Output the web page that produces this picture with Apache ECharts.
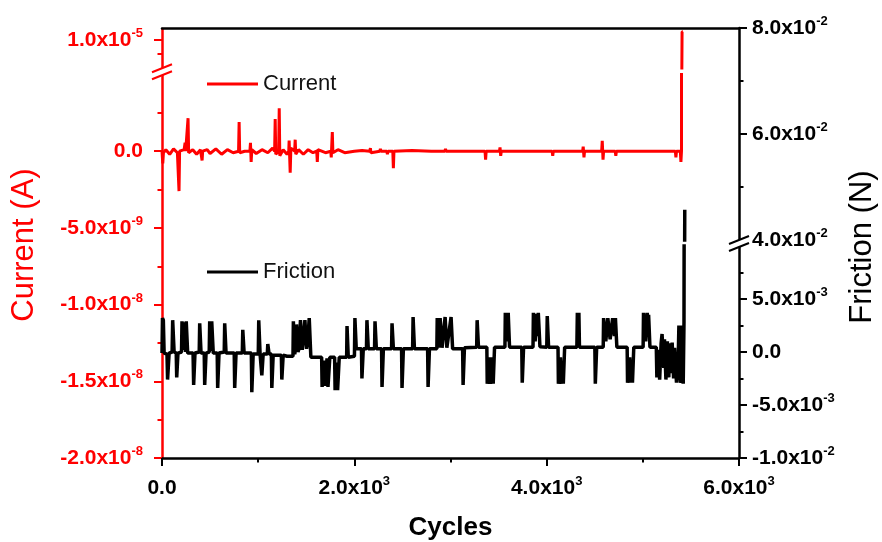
<!DOCTYPE html>
<html><head><meta charset="utf-8">
<script src="https://cdn.jsdelivr.net/npm/echarts@6/dist/echarts.min.js"></script>
<style>html,body{margin:0;padding:0;background:#fff}#c{width:882px;height:542px}</style>
</head><body><div id="c"></div>
<script>
// ---------- data ----------
const cycleTicks = [0, 2000, 4000, 6000];
const currentTicksLow = [-2e-8, -1.5e-8, -1e-8, -5e-9, 0];
const currentTicksHigh = [1e-5];
const frictionTicksLow = [-1e-2, -5e-3, 0, 5e-3];
const frictionTicksHigh = [4e-2, 6e-2, 8e-2];

// [cycles, current (A)]
const currentPoints = [
[0,0],[8,-8e-10],[15,-1e-10],[40,1e-10],[80,-2e-10],[120,1.5e-10],[160,-1e-10],[171,0],[177,-2.6e-9],[183,0],
[230,1e-10],[235,0],[240,5.5e-10],[246,0],[265,0],[271,2.15e-9],[277,-1e-10],[320,1e-10],[360,-2e-10],[400,1e-10],[411,0],[417,-6e-10],[423,0],
[470,1e-10],[500,-1.5e-10],[560,1.5e-10],[620,-2e-10],[680,1e-10],[740,-1e-10],[796,0],[802,1.9e-9],[808,-1e-10],[860,0],
[914,0],[920,5.5e-10],[927,-7e-10],[934,1e-10],[980,-1.5e-10],[1040,1e-10],[1100,-1e-10],[1150,2e-10],[1171,0],[1177,2.1e-9],[1183,-2e-10],
[1213,0],[1219,2.8e-9],[1225,-3e-10],[1260,1e-10],[1300,-2e-10],[1318,0],[1322,7e-10],[1333,-1.4e-9],[1340,2e-10],[1379,0],[1385,7.5e-10],[1391,-2e-10],
[1420,1e-10],[1470,-2e-10],[1520,1e-10],[1570,-1e-10],[1609,0],[1615,-7e-10],[1621,1e-10],[1700,-1e-10],[1755,0],[1760,-4e-10],[1771,1.25e-9],[1777,-1e-10],
[1830,1e-10],[1900,-1e-10],[2000,0],[2080,5e-11],[2161,0],[2167,2e-10],[2173,-1e-10],[2265,0],[2271,1.5e-10],[2277,0],[2338,0],[2344,-2e-10],[2350,0],
[2400,0],[2406,-1.1e-9],[2412,0],[2600,5e-11],[2800,0],[2942,0],[2948,1.5e-10],[2954,0],[3150,0],[3359,0],[3365,-5.5e-10],[3371,0],
[3509,0],[3515,2.5e-10],[3522,-3e-10],[3528,0],[3750,0],[4057,0],[4063,-3e-10],[4069,0],[4300,0],[4374,0],[4380,3e-10],[4388,-4e-10],[4394,0],
[4572,0],[4578,6.8e-10],[4586,-5.5e-10],[4592,0],[4713,0],[4719,-3e-10],[4725,0],[5000,0],[5200,0],[5338,0],[5344,-4e-10],[5350,0],[5390,0],[5396,-7e-10],
[5402,0],[5408,1.03e-5],[5416,1.03e-5]
];

// [cycles, friction (N)]
const frictionPoints = [
[0,-0.1e-3],[5,3.2e-3],[14,3.0e-3],[22,-0.1e-3],[52,-0.2e-3],[58,-2.6e-3],[66,-2.5e-3],[74,-0.1e-3],[105,0],[111,3.0e-3],[119,2.9e-3],[126,0],
[148,-0.1e-3],[153,-2.4e-3],[160,-2.3e-3],[166,-0.1e-3],[203,0],[208,2.9e-3],[216,2.8e-3],[222,0.2e-3],[230,2.8e-3],[238,2.9e-3],[246,0],[252,2.9e-3],[260,2.8e-3],[267,-0.1e-3],
[323,-0.1e-3],[329,-3.1e-3],[337,-3.0e-3],[343,-0.1e-3],[387,0],[392,2.7e-3],[400,2.6e-3],[406,-0.1e-3],[439,-0.1e-3],[444,-3.1e-3],[452,-3.0e-3],[458,-0.1e-3],
[491,0],[496,2.9e-3],[505,2.8e-3],[511,0.1e-3],[517,2.9e-3],[526,2.8e-3],[533,-0.1e-3],[574,-0.1e-3],[579,-3.4e-3],[587,-3.3e-3],[593,-0.1e-3],
[647,0],[652,2.7e-3],[660,2.6e-3],[666,-0.1e-3],[751,-0.1e-3],[756,-3.4e-3],[764,-3.3e-3],[770,-0.1e-3],[835,-0.1e-3],[840,2.1e-3],[848,2.0e-3],[854,-0.1e-3],
[929,-0.1e-3],[934,-3.8e-3],[942,-3.7e-3],[948,-0.2e-3],[1001,-0.2e-3],[1006,3.0e-3],[1014,2.9e-3],[1020,-0.2e-3],[1033,-0.2e-3],[1038,-2.2e-3],[1046,-2.1e-3],[1052,-0.2e-3],
[1095,-0.2e-3],[1100,0.75e-3],[1108,0.7e-3],[1114,-0.2e-3],[1137,-0.2e-3],[1142,-3.4e-3],[1150,-3.3e-3],[1156,-0.3e-3],[1241,-0.3e-3],[1246,-2.6e-3],[1254,-2.5e-3],[1260,-0.3e-3],
[1300,-0.4e-3],[1362,-0.4e-3],[1366,2.9e-3],[1374,2.8e-3],[1380,-0.2e-3],[1392,0.5e-3],[1398,2.6e-3],[1406,2.5e-3],[1414,0],[1425,0.3e-3],[1440,3.0e-3],[1448,2.9e-3],
[1458,0.2e-3],[1468,1.0e-3],[1486,3.0e-3],[1494,2.9e-3],[1503,0.3e-3],[1515,1.0e-3],[1531,3.2e-3],[1539,3.1e-3],[1548,-0.5e-3],
[1660,-0.5e-3],[1665,-3.3e-3],[1672,-3.2e-3],[1682,-0.8e-3],[1697,-3.2e-3],[1704,-3.1e-3],[1716,-0.6e-3],[1726,-3.3e-3],[1734,-3.2e-3],[1745,-0.5e-3],
[1795,-0.5e-3],[1800,-3.6e-3],[1808,-3.5e-3],[1816,-1.0e-3],[1826,-3.6e-3],[1834,-3.5e-3],[1843,-0.5e-3],
[1920,-0.5e-3],[1924,2.45e-3],[1931,2.4e-3],[1937,-0.5e-3],[2001,-0.4e-3],[2006,3.2e-3],[2014,3.1e-3],[2020,0.3e-3],
[2074,0.3e-3],[2079,-2.5e-3],[2087,-2.4e-3],[2093,0.3e-3],[2126,0.3e-3],[2131,3.0e-3],[2139,2.9e-3],[2145,0.3e-3],[2210,0.3e-3],[2215,2.9e-3],[2223,2.8e-3],[2229,0.3e-3],
[2283,0.3e-3],[2288,-3.3e-3],[2296,-3.2e-3],[2302,0.3e-3],[2387,0.3e-3],[2392,2.7e-3],[2400,2.6e-3],[2406,0.3e-3],[2491,0.3e-3],[2496,-3.4e-3],[2504,-3.3e-3],[2510,0.3e-3],
[2606,0.3e-3],[2611,3.3e-3],[2619,3.2e-3],[2625,0.3e-3],[2762,0.3e-3],[2767,-3.3e-3],[2775,-3.2e-3],[2781,0.3e-3],
[2858,0.3e-3],[2862,3.2e-3],[2870,3.1e-3],[2878,0.4e-3],[2892,3.2e-3],[2900,3.1e-3],[2912,0.4e-3],[2944,3.3e-3],[2952,3.2e-3],[2962,0.4e-3],[3006,3.3e-3],[3014,3.2e-3],[3022,0.3e-3],
[3126,0.3e-3],[3131,-3.1e-3],[3139,-3.0e-3],[3145,0.4e-3],[3272,0.45e-3],[3277,3.0e-3],[3285,2.9e-3],[3291,0.45e-3],
[3378,0.45e-3],[3382,-3.0e-3],[3390,-2.9e-3],[3403,-0.5e-3],[3416,-3.0e-3],[3424,-2.9e-3],[3435,-0.5e-3],[3444,-3.0e-3],[3452,-2.9e-3],[3458,0.45e-3],
[3566,0.45e-3],[3570,3.7e-3],[3578,3.6e-3],[3588,1.0e-3],[3600,3.7e-3],[3608,3.6e-3],[3614,0.45e-3],[3741,0.45e-3],[3746,-2.9e-3],[3754,-2.8e-3],[3760,0.45e-3],
[3858,0.45e-3],[3862,3.7e-3],[3870,3.6e-3],[3880,1.0e-3],[3896,3.6e-3],[3904,1.5e-3],[3913,3.7e-3],[3921,3.6e-3],[3930,0.5e-3],[4001,0.45e-3],[4006,3.4e-3],[4014,3.3e-3],[4020,0.45e-3],
[4118,0.45e-3],[4122,-3.0e-3],[4130,-2.9e-3],[4143,-0.5e-3],[4157,-3.0e-3],[4165,-1.0e-3],[4173,-3.0e-3],[4181,-2.9e-3],[4187,0.45e-3],
[4314,0.45e-3],[4319,3.7e-3],[4327,1.5e-3],[4335,3.7e-3],[4341,0.45e-3],[4501,0.45e-3],[4506,-3.0e-3],[4514,-2.9e-3],[4520,0.45e-3],
[4588,0.45e-3],[4592,3.2e-3],[4600,3.1e-3],[4615,1.0e-3],[4636,3.2e-3],[4644,3.1e-3],[4660,1.2e-3],[4686,3.2e-3],[4694,3.1e-3],[4705,1.5e-3],[4715,3.2e-3],[4723,3.1e-3],[4730,0.45e-3],
[4837,0.45e-3],[4841,-2.9e-3],[4849,-2.8e-3],[4863,-0.5e-3],[4876,-2.9e-3],[4884,-1.0e-3],[4892,-2.9e-3],[4900,-2.8e-3],[4906,0.45e-3],
[5003,0.45e-3],[5007,3.7e-3],[5015,3.6e-3],[5030,1.0e-3],[5046,3.7e-3],[5054,1.5e-3],[5060,3.5e-3],[5068,3.4e-3],[5074,0.45e-3],
[5140,0.45e-3],[5146,-2.4e-3],[5153,-2.3e-3],[5160,0.2e-3],[5175,-2.6e-3],[5182,-2.5e-3],[5190,0.8e-3],[5200,1.7e-3],[5208,1.8e-3],[5218,-1.5e-3],[5225,1.2e-3],
[5240,-2.6e-3],[5247,-2.5e-3],[5255,1.0e-3],[5270,-2.4e-3],[5280,0.8e-3],[5290,0.5e-3],[5298,-2.0e-3],[5305,0.9e-3],[5320,-2.5e-3],[5330,0.4e-3],[5340,0.5e-3],
[5350,-2.9e-3],[5360,-2.8e-3],[5368,-0.5e-3],[5375,2.5e-3],[5383,-1.0e-3],[5390,-2.9e-3],[5398,-2.6e-3],[5405,2.5e-3],[5413,-1.0e-3],[5420,-3.0e-3],[5428,2.8e-3],[5436,4.57e-2]
];

// ---------- styling ----------
const FONT = '"Liberation Sans", Arial, Helvetica, sans-serif';
const RED = '#ff0000', BLACK = '#000000';
const AXIS_W = 2.5;

function sciLabel(v) {
  if (Math.abs(v) < 1e-20) return '{b|0.0}';
  const p = v.toExponential(1).split('e');
  return '{b|' + p[0] + 'x10}{s|' + parseInt(p[1], 10) + '}';
}
function rich(color) {
  return {
    b: { fontSize: 21, fontWeight: 'bold', fontFamily: FONT, color: color, lineHeight: 26 },
    s: { fontSize: 13, fontWeight: 'bold', fontFamily: FONT, color: color, lineHeight: 15, verticalAlign: 'top' }
  };
}
function yAxisDef(grid, pos, color, min, max, interval, ticks, margin) {
  return {
    type: 'value', gridIndex: grid, position: pos, min: min, max: max, interval: interval,
    axisLine: { show: true, onZero: false, lineStyle: { color: color, width: AXIS_W } },
    axisTick: { show: true, length: 8, customValues: ticks, lineStyle: { color: color, width: 2 } },
    minorTick: { show: true, splitNumber: 2, length: 4.5, lineStyle: { color: color, width: 2 } },
    axisLabel: { show: true, customValues: ticks, margin: margin, formatter: sciLabel, rich: rich(color) },
    splitLine: { show: false }, minorSplitLine: { show: false }
  };
}
function hiddenX(grid) {
  return { type: 'value', gridIndex: grid, min: 0, max: 6000, show: false, axisLine: { onZero: false } };
}
function lineSeries(name, xi, yi, data, color, width) {
  return {
    type: 'line', name: name, xAxisIndex: xi, yAxisIndex: yi, data: data,
    showSymbol: false, symbol: 'none', clip: true, z: 3,
    lineStyle: { color: color, width: width }, itemStyle: { color: color }
  };
}
function legendDef(name, top) {
  return {
    data: [name], left: 207, top: top, padding: 0, icon: 'rect', itemWidth: 51, itemHeight: 3,
    selectedMode: false, textStyle: { fontSize: 22, color: '#111', fontFamily: FONT }
  };
}

const chart = echarts.init(document.getElementById('c'), null, { renderer: 'canvas' });
const gridBase = { left: 162, width: 577, outerBoundsMode: 'none', containLabel: false, show: false };

chart.setOption({
  backgroundColor: '#ffffff',
  animation: false,
  grid: [
    Object.assign({ top: 74.5, height: 383.5 }, gridBase),  // current, lower segment
    Object.assign({ top: 29, height: 39 }, gridBase),       // current, upper segment
    Object.assign({ top: 246, height: 212 }, gridBase),     // friction, lower segment
    Object.assign({ top: 28, height: 212 }, gridBase)       // friction, upper segment
  ],
  xAxis: [
    {
      type: 'value', gridIndex: 0, position: 'bottom', min: 0, max: 6000, interval: 2000,
      axisLine: { show: true, onZero: false, lineStyle: { color: BLACK, width: AXIS_W } },
      axisTick: { show: true, length: 8, customValues: cycleTicks, lineStyle: { color: BLACK, width: 2 } },
      minorTick: { show: true, splitNumber: 2, length: 4.5, lineStyle: { color: BLACK, width: 2 } },
      axisLabel: { show: true, customValues: cycleTicks, margin: 17, formatter: sciLabel, rich: rich(BLACK) },
      splitLine: { show: false }, minorSplitLine: { show: false }
    },
    hiddenX(1),
    hiddenX(2),
    {
      type: 'value', gridIndex: 3, position: 'top', min: 0, max: 6000,
      axisLine: { show: true, onZero: false, lineStyle: { color: BLACK, width: AXIS_W } },
      axisTick: { show: false }, axisLabel: { show: false }, splitLine: { show: false }
    }
  ],
  yAxis: [
    yAxisDef(0, 'left', RED, -2e-8, 5e-9, 5e-9, currentTicksLow, 19),
    yAxisDef(1, 'left', RED, 9e-6, 1.04e-5, 1e-6, currentTicksHigh, 19),
    yAxisDef(2, 'right', BLACK, -1e-2, 1e-2, 5e-3, frictionTicksLow, 13),
    yAxisDef(3, 'right', BLACK, 4e-2, 8e-2, 2e-2, frictionTicksHigh, 13)
  ],
  legend: [legendDef('Current', 73), legendDef('Friction', 261)],
  series: [
    lineSeries('Current', 0, 0, currentPoints, RED, 3),
    lineSeries('Current', 1, 1, currentPoints, RED, 3),
    lineSeries('Friction', 2, 2, frictionPoints, BLACK, 3.5),
    lineSeries('Friction', 3, 3, frictionPoints, BLACK, 3.5)
  ]
});

// axis-break marks and axis titles, placed from the axes' own pixel mapping
const xl = chart.convertToPixel({ xAxisIndex: 0 }, 0);
const xr = chart.convertToPixel({ xAxisIndex: 0 }, 6000);
const yLeftBreak = (chart.convertToPixel({ yAxisIndex: 0 }, 5e-9) + chart.convertToPixel({ yAxisIndex: 1 }, 9e-6)) / 2;
const yRightBreak = (chart.convertToPixel({ yAxisIndex: 2 }, 1e-2) + chart.convertToPixel({ yAxisIndex: 3 }, 4e-2)) / 2;
function breakMark(cx, cy, color) {
  return [
    { type: 'polygon', z: 100, shape: { points: [[cx - 10, cy + 1], [cx + 10, cy - 7], [cx + 10, cy], [cx - 10, cy + 8]] },
      style: { fill: '#ffffff', stroke: null } },
    { type: 'line', z: 101, shape: { x1: cx - 10, y1: cy + 1, x2: cx + 10, y2: cy - 7 }, style: { stroke: color, lineWidth: 2 } },
    { type: 'line', z: 101, shape: { x1: cx - 10, y1: cy + 8, x2: cx + 10, y2: cy }, style: { stroke: color, lineWidth: 2 } }
  ];
}
const yMid = (chart.convertToPixel({ yAxisIndex: 3 }, 8e-2) + chart.convertToPixel({ yAxisIndex: 0 }, -2e-8)) / 2;
chart.setOption({
  graphic: [].concat(
    breakMark(xl, yLeftBreak, RED),
    breakMark(xr, yRightBreak, BLACK),
    [
      { type: 'text', z: 100, x: 24, y: yMid + 2, rotation: Math.PI / 2,
        style: { text: 'Current (A)', fill: RED, fontSize: 31, fontFamily: FONT, align: 'center', verticalAlign: 'middle' } },
      { type: 'text', z: 100, x: 862, y: yMid + 4, rotation: Math.PI / 2,
        style: { text: 'Friction (N)', fill: BLACK, fontSize: 31, fontFamily: FONT, align: 'center', verticalAlign: 'middle' } },
      { type: 'text', z: 100, x: (xl + xr) / 2, y: 528,
        style: { text: 'Cycles', fill: BLACK, fontSize: 26, fontWeight: 'bold', fontFamily: FONT, align: 'center', verticalAlign: 'middle' } }
    ]
  )
});
</script></body></html>
